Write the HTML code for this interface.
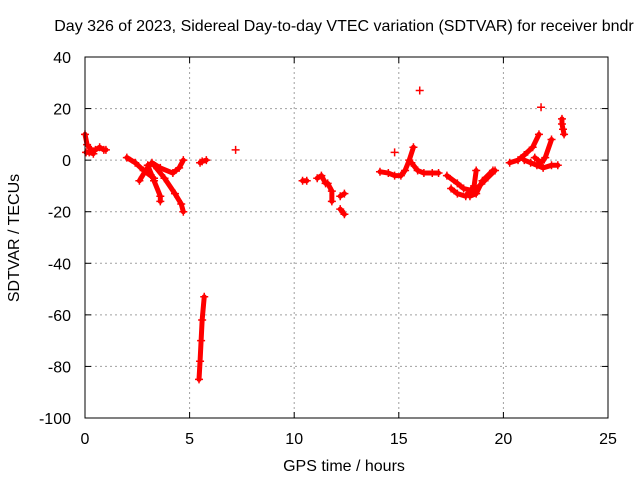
<!DOCTYPE html>
<html><head><meta charset="utf-8"><style>
body{margin:0;background:#fff}
svg{display:block;font-family:"Liberation Sans",sans-serif;font-size:16px}
</style></head><body>
<svg id="chart" width="640" height="480">
<text x="344" y="31" text-anchor="middle">Day 326 of 2023, Sidereal Day-to-day VTEC variation (SDTVAR) for receiver bndr</text>
<text x="344" y="471" text-anchor="middle">GPS time / hours</text>
<text transform="translate(19,238) rotate(-90)" text-anchor="middle">SDTVAR / TECUs</text>
<g id="grid"></g><g id="marks"></g>
<rect x="85" y="57" width="523" height="361" fill="none" stroke="#000"/>
</svg>
<script>
const xTicks=[0,5,10,15,20,25];
const yTicks=[40,20,0,-20,-40,-60,-80,-100];
const passes=[
[[0,10],[0.1,6],[0.3,4],[0.5,4],[0.7,5],[0.9,4],[1.0,4]],
[[0.05,3],[0.2,3],[0.4,2.5]],
[[2.0,1],[2.4,-1],[2.8,-4],[3.3,-7]],
[[2.6,-8],[2.9,-4],[3.2,-1],[3.6,-3],[4.2,-5],[4.5,-3],[4.7,0]],
[[3.0,-2],[3.3,-8],[3.6,-14],[3.6,-16]],
[[3.3,-2],[3.8,-7],[4.3,-13],[4.6,-17],[4.7,-20]],
[[5.5,-1],[5.6,-0.5],[5.8,0]],
[[5.45,-85],[5.5,-78],[5.55,-70],[5.6,-62],[5.7,-53]],
[[7.2,4]],
[[10.4,-8],[10.6,-8]],
[[11.1,-7],[11.3,-6],[11.5,-9]],
[[11.6,-9],[11.8,-12],[11.8,-16]],
[[12.2,-14],[12.4,-13]],
[[12.2,-19],[12.4,-21]],
[[14.1,-4.5],[14.5,-5],[14.8,-6],[15.1,-6],[15.3,-4],[15.5,0],[15.7,5]],
[[14.8,3]],
[[15.6,-1],[15.9,-4],[16.2,-5],[16.6,-5],[16.9,-5]],
[[16.0,27]],
[[17.3,-6],[17.8,-9],[18.1,-11],[18.6,-12],[19.1,-8],[19.6,-4]],
[[17.5,-11],[17.8,-13],[18.2,-14],[18.6,-10],[18.7,-4]],
[[18.4,-14],[18.7,-13],[19.0,-8],[19.5,-4]],
[[20.3,-1],[20.7,0],[21.0,2],[21.4,5],[21.7,10]],
[[21.0,0],[21.3,-1],[21.6,-2],[21.9,-3],[22.3,-2],[22.6,-2]],
[[21.5,1],[21.8,-1],[22.0,1],[22.3,8]],
[[21.8,20.5]],
[[22.8,16],[22.8,14],[22.85,12],[22.9,10]]
];
const NS='http://www.w3.org/2000/svg';
const X=t=>85+t*(523/25);
const Y=v=>57+(40-v)*(361/140);
const grid=document.getElementById('grid'),marks=document.getElementById('marks');
function mk(tag,at,par){const e=document.createElementNS(NS,tag);for(const k in at)e.setAttribute(k,at[k]);par.appendChild(e);return e;}
xTicks.forEach(t=>{
 if(t>0&&t<25){const l=mk('line',{x1:X(t),x2:X(t),y1:57,y2:418,stroke:'#a0a0a0','stroke-dasharray':'2,3'},grid);
 
 }
 mk('line',{x1:X(t),x2:X(t),y1:418,y2:412,stroke:'#000'},grid);
 mk('line',{x1:X(t),x2:X(t),y1:57,y2:63,stroke:'#000'},grid);
 const tx=mk('text',{x:X(t),y:444,'text-anchor':'middle'},grid);tx.textContent=t;
 
 
});
yTicks.forEach(v=>{
 if(v<40&&v>-100){const l=mk('line',{x1:85,x2:608,y1:Y(v),y2:Y(v),stroke:'#a0a0a0','stroke-dasharray':'2,3'},grid);
 
 }
 mk('line',{x1:85,x2:91,y1:Y(v),y2:Y(v),stroke:'#000'},grid);
 mk('line',{x1:602,x2:608,y1:Y(v),y2:Y(v),stroke:'#000'},grid);
 const tx=mk('text',{x:71,y:Y(v)+6,'text-anchor':'end'},grid);tx.textContent=v;
 
 
});
passes.forEach(p=>{
 if(p.length>1){const pl=mk('polyline',{points:p.map(d=>X(d[0])+','+Y(d[1])).join(' '),fill:'none',stroke:'#f00','stroke-width':5,'stroke-linejoin':'round','stroke-linecap':'round'},marks);
 
 }
 p.forEach(d=>{const x=X(d[0]),y=Y(d[1]);
  const pt=mk('path',{d:`M${x-4},${y}H${x+4}M${x},${y-4}V${y+4}`,stroke:'#f00','stroke-width':1.5},marks);
  
  });
});
</script>
</body></html>
